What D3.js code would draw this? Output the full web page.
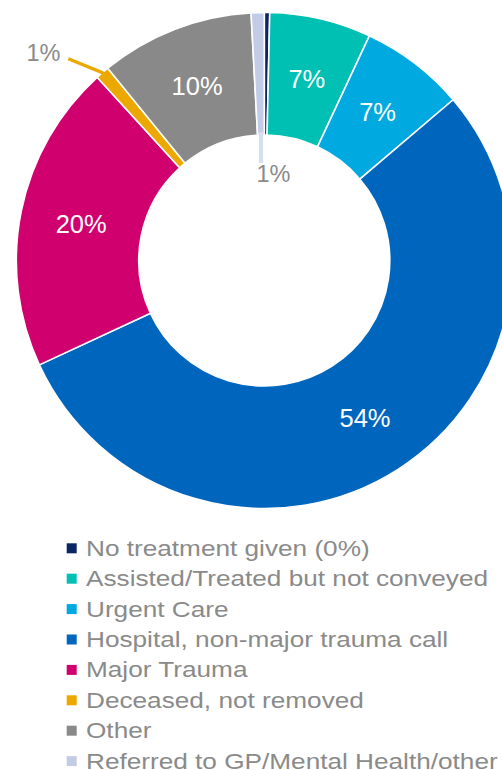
<!DOCTYPE html>
<html>
<head>
<meta charset="utf-8">
<script src="https://cdn.jsdelivr.net/npm/d3@7/dist/d3.min.js"></script>
<style>
  html, body { margin: 0; padding: 0; background: #ffffff; }
  svg { display: block; font-family: "Liberation Sans", Arial, Helvetica, sans-serif; }
</style>
</head>
<body>
<svg id="chart" width="502" height="770"></svg>
<script>
// Outcome categories, in clockwise order starting at 12 o'clock
const categories = [
  "No treatment given (0%)",
  "Assisted/Treated but not conveyed",
  "Urgent Care",
  "Hospital, non-major trauma call",
  "Major Trauma",
  "Deceased, not removed",
  "Other",
  "Referred to GP/Mental Health/other"
];
// Share of calls (%)
const shares = [0.35, 6.6, 6.8, 54.2, 20.1, 0.9, 10.0, 0.85];
const colors = ["#0b2463", "#00bfb3", "#00a9e0", "#0066bd", "#d1006f", "#eda800", "#898989", "#c2cce6"];
// How each slice is labelled: inside the ring, outside with a leader, or not at all
const labelModes = ["none", "inside", "inside", "inside", "inside", "outer", "inside", "hole"];

const svg = d3.select("#chart");
const cx = 264.3, cy = 260.5;
const outerR = 248, innerR = 125.5;
const textGrey = "#8a8a8a";

const pie = d3.pie().sort(null).value(d => d.value);
const arcs = pie(categories.map((c, i) => ({ name: c, value: shares[i], color: colors[i], mode: labelModes[i] })));

const arc = d3.arc().innerRadius(innerR).outerRadius(outerR);
const outerEdge = d3.arc().innerRadius(outerR).outerRadius(outerR);
const innerEdge = d3.arc().innerRadius(innerR).outerRadius(innerR);

const g = svg.append("g").attr("transform", `translate(${cx},${cy})`);

g.selectAll("path.slice")
  .data(arcs)
  .join("path")
  .attr("class", "slice")
  .attr("d", arc)
  .attr("fill", d => d.data.color)
  .attr("stroke", "#ffffff")
  .attr("stroke-width", 1.6)
  .attr("stroke-linejoin", "round");

const pct = d => Math.round(d.data.value) + "%";

// Labels inside the ring
g.selectAll("text.inside")
  .data(arcs.filter(d => d.data.mode === "inside"))
  .join("text")
  .attr("class", "inside")
  .attr("x", d => arc.centroid(d)[0])
  .attr("y", d => arc.centroid(d)[1])
  .attr("dy", "0.35em")
  .attr("text-anchor", "middle")
  .attr("font-size", 25.5)
  .attr("fill", "#ffffff")
  .text(pct);

// Small slice labelled outside the ring, leader drawn up and to the left
arcs.filter(d => d.data.mode === "outer").forEach(d => {
  const [ex, ey] = outerEdge.centroid(d);
  const [ix, iy] = arc.centroid(d);
  const sx = ex - 34, sy = ey - 14;
  g.append("path")
    .attr("d", d3.line()([[sx, sy], [ex, ey], [ex + (ix - ex) * 0.06, ey + (iy - ey) * 0.06]]))
    .attr("fill", "none")
    .attr("stroke", d.data.color)
    .attr("stroke-width", 3.2);
  g.append("text")
    .attr("x", sx - 8)
    .attr("y", sy + 2)
    .attr("text-anchor", "end")
    .attr("font-size", 23.5)
    .attr("fill", textGrey)
    .text(pct(d));
});

// Small slice labelled inside the hole, leader dropping from the inner edge
arcs.filter(d => d.data.mode === "hole").forEach(d => {
  const [hx, hy] = innerEdge.centroid(d);
  g.append("line")
    .attr("x1", hx).attr("y1", hy - 3)
    .attr("x2", hx).attr("y2", hy + 28)
    .attr("stroke", "#d5dff1")
    .attr("stroke-width", 4);
  g.append("text")
    .attr("x", hx + 12.5)
    .attr("y", hy + 47)
    .attr("text-anchor", "middle")
    .attr("font-size", 23.5)
    .attr("fill", textGrey)
    .text(pct(d));
});

// Legend
const legendX = 66.7, textX = 86, firstBase = 555.7, rowGap = 30.4;
const legend = svg.append("g");
const rows = legend.selectAll("g.row")
  .data(arcs)
  .join("g")
  .attr("class", "row")
  .attr("transform", (d, i) => `translate(0,${firstBase + i * rowGap})`);

rows.append("rect")
  .attr("x", legendX)
  .attr("y", -12.4)
  .attr("width", 10)
  .attr("height", 10)
  .attr("fill", d => d.data.color);

rows.append("text")
  .attr("transform", `translate(${textX},0) scale(1.19,1)`)
  .attr("font-size", 22)
  .attr("fill", textGrey)
  .text(d => d.data.name);
</script>
</body>
</html>
